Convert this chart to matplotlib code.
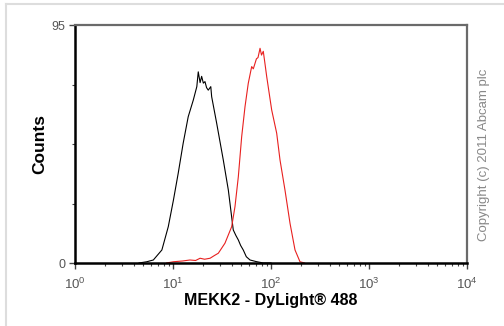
import matplotlib
matplotlib.use('Agg')
import matplotlib.pyplot as plt
from matplotlib.ticker import FixedLocator, LogLocator, NullFormatter
import numpy as np

plt.rcParams['font.family'] = ['Liberation Sans', 'DejaVu Sans']
plt.rcParams['mathtext.fontset'] = 'custom'
plt.rcParams['mathtext.rm'] = 'Liberation Sans'
plt.rcParams['mathtext.it'] = 'Liberation Sans'

# isotype control (black)
ctrl_x = [4.5, 5.4, 6.3, 7.7, 8.95, 10.1, 11.3, 12.7, 14.3, 16.1, 17.5, 18.1, 18.9,
          19.6, 20.4, 21.2, 22.0, 22.9, 24.3, 24.8, 27.9, 32.6, 36.7, 41.2, 43.8,
          46.4, 49.0, 52.1, 56.0, 61.1, 70.0, 83.4, 100.0]
ctrl_y = [0, 0.5, 1.2, 5.2, 14.5, 25.1, 35.8, 47.8, 58.4, 65.0, 70.4, 76.3, 72.0,
          74.5, 71.8, 72.4, 70.0, 69.0, 70.4, 66.4, 55.8, 41.1, 29.1, 13.2, 11.0,
          9.2, 7.0, 5.2, 2.5, 1.2, 0.6, 0, 0]

# MEKK2 stained (red)
mekk_x = [8.6, 10.1, 12.5, 14.9, 17.0, 18.9, 21.0, 23.9, 26.5, 29.0, 33.9, 39.7,
          42.9, 46.4, 50.2, 54.3, 58.6, 63.5, 66.0, 68.7, 71.0, 73.7, 77.3, 80.0,
          83.4, 86.5, 90.4, 101.6, 114.3, 123.6, 138.9, 156.4, 175.8, 197.6, 220.0]
mekk_y = [0, 0.5, 0.8, 1.2, 1.0, 1.9, 1.5, 1.9, 3.0, 3.9, 7.9, 14.5,
          22.5, 34.4, 50.4, 62.4, 71.7, 78.4, 77.5, 79.7, 81.5, 82.0, 85.7, 83.0,
          84.5, 80.0, 74.4, 61.1, 51.8, 41.1, 29.1, 15.8, 5.2, 0.5, 0]

fig = plt.figure(figsize=(5.04, 3.26), dpi=100)
fig.patches.append(plt.Line2D([6 / 504, 6 / 504], [0, 1 - 4 / 326], transform=fig.transFigure,
                              color='#dddddd', lw=1.5))
fig.patches.append(plt.Line2D([6 / 504, 1], [1 - 4 / 326, 1 - 4 / 326], transform=fig.transFigure,
                              color='#dddddd', lw=1.5))

ax = fig.add_axes([75 / 504, 1 - 263 / 326, 392 / 504, 238 / 326])
ax.plot(ctrl_x, ctrl_y, color='black', lw=0.8)
ax.plot(mekk_x, mekk_y, color='#e8201f', lw=0.8)

ax.set_xscale('log')
ax.set_xlim(1, 1e4)
ax.set_ylim(0, 95)

ax.xaxis.set_major_locator(FixedLocator([1, 10, 100, 1000, 10000]))
ax.set_xticklabels(['$10^0$', '$10^1$', '$10^2$', '$10^3$', '$10^4$'])
ax.xaxis.set_minor_locator(LogLocator(base=10, subs=np.arange(2, 10)))
ax.xaxis.set_minor_formatter(NullFormatter())
ax.set_yticks([0, 95])
ax.set_yticks([23.75, 47.5, 71.25], minor=True)

ax.tick_params(axis='both', which='major', direction='out', length=4, width=1,
               colors='#444444', labelsize=9, labelcolor='#555555', pad=3)
ax.tick_params(axis='x', which='major', pad=6, labelsize=9.5)
ax.tick_params(axis='both', which='minor', direction='out', length=2, width=0.8,
               colors='#444444')

for side in ['left', 'bottom']:
    ax.spines[side].set_linewidth(1.8)
    ax.spines[side].set_color('black')
for side in ['top', 'right']:
    ax.spines[side].set_linewidth(1.6)
    ax.spines[side].set_color('#6a6a6a')

ax.set_xlabel('MEKK2 - DyLight\u00ae 488', fontsize=11.5, fontweight='bold', labelpad=1)
ax.set_ylabel('Counts', fontsize=12.5, fontweight='bold', labelpad=3)

fig.text(484 / 504, 1 - 155 / 326, 'Copyright (c) 2011 Abcam plc', rotation=90,
         fontsize=9.5, color='#888888', ha='center', va='center')

fig.savefig('out.png', dpi=100)
